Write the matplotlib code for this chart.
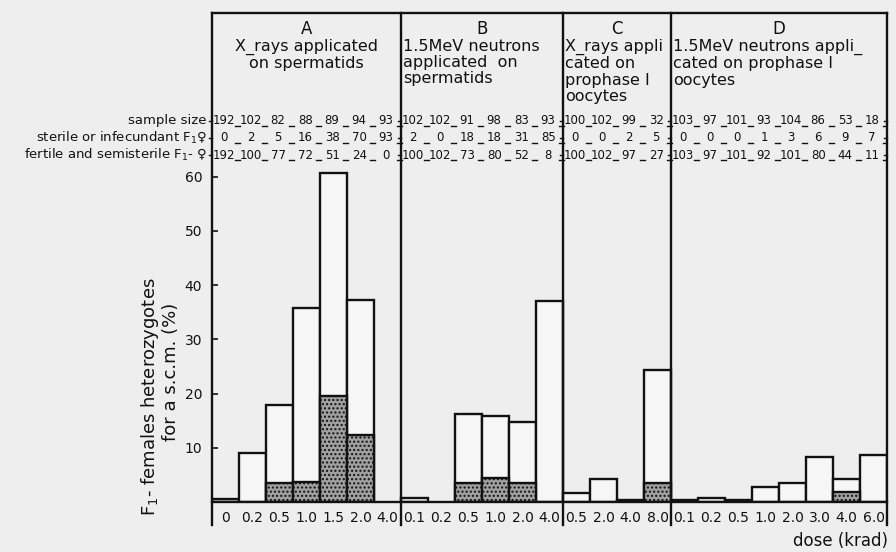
import matplotlib
matplotlib.use("Agg")
import matplotlib.pyplot as plt

# ---- data -------------------------------------------------------------
panel_letters = ["A", "B", "C", "D"]
panel_titles = [
    "X_rays applicated\non spermatids",
    "1.5MeV neutrons\napplicated  on\nspermatids",
    "X_rays appli\ncated on\nprophase I\noocytes",
    "1.5MeV neutrons appli_\ncated on prophase I\noocytes",
]
panel_title_align = ["center", "left", "left", "left"]

doses_A = ["0", "0.2", "0.5", "1.0", "1.5", "2.0", "4.0"]
doses_B = ["0.1", "0.2", "0.5", "1.0", "2.0", "4.0"]
doses_C = ["0.5", "2.0", "4.0", "8.0"]
doses_D = ["0.1", "0.2", "0.5", "1.0", "2.0", "3.0", "4.0", "6.0"]

# F1 females heterozygotes for a s.c.m. (%) – whole bar and stippled part
total_A = [0.5, 9.0, 17.9, 35.8, 60.7, 37.3, 0.0]
shaded_A = [0.0, 0.0, 3.5, 3.7, 19.6, 12.4, 0.0]
total_B = [0.7, 0.0, 16.2, 15.9, 14.8, 37.1]
shaded_B = [0.0, 0.0, 3.5, 4.4, 3.5, 0.0]
total_C = [1.7, 4.2, 0.4, 24.4]
shaded_C = [0.0, 0.0, 0.0, 3.5]
total_D = [0.4, 0.7, 0.4, 2.8, 3.5, 8.3, 4.3, 8.7]
shaded_D = [0.0, 0.0, 0.0, 0.0, 0.0, 0.0, 1.9, 0.0]

sample_A = [192, 102, 82, 88, 89, 94, 93]
sterile_A = [0, 2, 5, 16, 38, 70, 93]
fertile_A = [192, 100, 77, 72, 51, 24, 0]
sample_B = [102, 102, 91, 98, 83, 93]
sterile_B = [2, 0, 18, 18, 31, 85]
fertile_B = [100, 102, 73, 80, 52, 8]
sample_C = [100, 102, 99, 32]
sterile_C = [0, 0, 2, 5]
fertile_C = [100, 102, 97, 27]
sample_D = [103, 97, 101, 93, 104, 86, 53, 18]
sterile_D = [0, 0, 0, 1, 3, 6, 9, 7]
fertile_D = [103, 97, 101, 92, 101, 80, 44, 11]

row_labels = ["sample size",
              r"sterile or infecundant F$_1$♀",
              r"fertile and semisterile F$_1$- ♀"]
y_ticks = [10, 20, 30, 40, 50, 60]

doses = [doses_A, doses_B, doses_C, doses_D]
totals = [total_A, total_B, total_C, total_D]
shadeds = [shaded_A, shaded_B, shaded_C, shaded_D]
table = [[sample_A, sterile_A, fertile_A],
         [sample_B, sterile_B, fertile_B],
         [sample_C, sterile_C, fertile_C],
         [sample_D, sterile_D, fertile_D]]

# ---- figure -----------------------------------------------------------
BG = "#eeeeee"
INK = "#111111"
plt.rcParams["font.family"] = ["DejaVu Sans"]

fig = plt.figure(figsize=(8.96, 5.52), dpi=100, facecolor=BG)
ax = fig.add_axes([212 / 896, 50 / 552, 675 / 896, 489 / 552])
ax.set_facecolor(BG)
YMAX = 90.2
n_slots = sum(len(d) for d in doses)
ax.set_xlim(0, n_slots)
ax.set_ylim(0, YMAX)
for s in ax.spines.values():
    s.set_visible(False)

lw = 1.7
row_y = [70.3, 67.2, 64.0]

start = 0
bounds = [0]
for p in range(4):
    n = len(doses[p])
    xs = [start + i for i in range(n)]
    # bars
    for x, t, sh in zip(xs, totals[p], shadeds[p]):
        if t > 0:
            ax.bar(x, t, width=1, align="edge", facecolor="#f6f6f6",
                   edgecolor=INK, linewidth=lw, zorder=2)
        if sh > 0:
            ax.bar(x, sh, width=1, align="edge", facecolor="#a0a0a0",
                   edgecolor=INK, linewidth=lw, hatch="....", zorder=3)
    # dose labels
    for x, lab in zip(xs, doses[p]):
        ax.text(x + 0.5, -3.0, lab, ha="center", va="center",
                fontsize=10, color=INK, clip_on=False)
    # table rows: one number per dose, short dashes in between
    for r in range(3):
        for i, (x, v) in enumerate(zip(xs, table[p][r])):
            ax.text(x + 0.45, row_y[r], str(v), ha="center", va="center",
                    fontsize=8.5, color=INK)
            ax.plot([x + 0.86, x + 1.04], [row_y[r] - 0.9] * 2,
                    color=INK, lw=1.0)
    # headers
    cx = start + n / 2
    ax.text(cx, 87.3, panel_letters[p], ha="center", va="center",
            fontsize=12, color=INK)
    if panel_title_align[p] == "center":
        ax.text(cx, 85.4, panel_titles[p], ha="center", va="top",
                fontsize=11.5, color=INK, linespacing=1.1,
                multialignment="center")
    else:
        ax.text(start + 0.08, 85.4, panel_titles[p], ha="left", va="top",
                fontsize=11.5, color=INK, linespacing=1.1)
    start += n
    bounds.append(start)

# frame, panel dividers and baseline
for b in bounds:
    ax.plot([b, b], [-4.3, YMAX], color=INK, lw=lw, clip_on=False, zorder=4)
    for ry in row_y:
        ax.plot([b - 0.1, b], [ry, ry], color=INK,
                lw=1.0, clip_on=False, zorder=4)
ax.plot([0, n_slots], [YMAX, YMAX], color=INK, lw=lw, clip_on=False, zorder=4)
ax.plot([0, n_slots], [0, 0], color=INK, lw=lw, clip_on=False, zorder=4)

# y axis
ax.set_yticks(y_ticks)
ax.set_yticklabels([str(v) for v in y_ticks])
ax.tick_params(axis="y", direction="in", length=4, width=1.2, pad=7,
               labelsize=10, colors=INK)
ax.set_xticks([])

for lab, ry in zip(row_labels, row_y):
    ax.text(-0.2, ry, lab, ha="right", va="center", fontsize=9.5,
            color=INK, clip_on=False)

fig.text(150 / 896, 1 - 397 / 552, r"F$_1$- females heterozygotes",
         rotation=90, ha="center", va="center", fontsize=13, color=INK)
fig.text(171 / 896, 1 - 372 / 552, "for a s.c.m. (%)",
         rotation=90, ha="center", va="center", fontsize=13, color=INK)
fig.text(888 / 896, 1 - 541 / 552, "dose (krad)", ha="right", va="center",
         fontsize=12, color=INK)

fig.savefig("out.png", dpi=100, facecolor=BG)
